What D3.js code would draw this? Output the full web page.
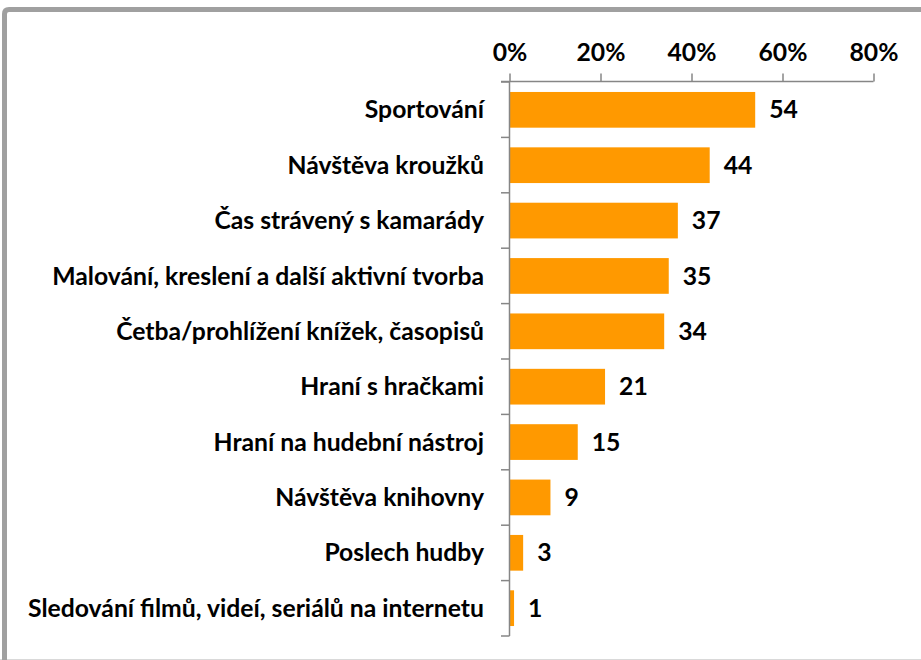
<!DOCTYPE html>
<html>
<head>
<meta charset="utf-8">
<script src="https://d3js.org/d3.v7.min.js"></script>
<style>
	body{ margin:0; background:#fff; }
	svg text{ font-family: Lato, "Open Sans", sans-serif; font-weight:bold; fill:#000; }
	.frame{ fill:none; stroke:#a0a0a0; stroke-width:5; }
</style>
</head>
<body>
<div id="container"></div>
<script>

var categories = [
	"Sportování",
	"Návštěva kroužků",
	"Čas strávený s kamarády",
	"Malování, kreslení a další aktivní tvorba",
	"Četba/prohlížení knížek, časopisů",
	"Hraní s hračkami",
	"Hraní na hudební nástroj",
	"Návštěva knihovny",
	"Poslech hudby",
	"Sledování filmů, videí, seriálů na internetu"
];
var values = [54, 44, 37, 35, 34, 21, 15, 9, 3, 1];
var tickValues = [0, 20, 40, 60, 80];

var W = 921, H = 660;
var x0 = 509.5, x1 = 873.5, plotTop = 82, plotBottom = 636;

var svg = d3.select("#container")
	.append("svg")
	.attr("width", W)
	.attr("height", H);

// chart frame
svg.append("rect")
	.attr("x", 0).attr("y", 0)
	.attr("width", W).attr("height", H)
	.attr("fill", "#fff");
svg.append("line")
	.attr("x1", 0).attr("x2", W).attr("y1", 659.5).attr("y2", 659.5)
	.attr("stroke", "#d9d9d9").attr("stroke-width", 1);
svg.append("path")
	.attr("class", "frame")
	.attr("d", "M4.5,660 L4.5,14 Q4.5,9.5 9,9.5 L925,9.5");

var x = d3.scaleLinear().domain([0, 80]).range([x0, x1]);
var y = d3.scaleBand().domain(categories).range([plotTop, plotBottom]).paddingInner(0.355).paddingOuter(0.18);

// bars
svg.selectAll("rect.bar")
	.data(values)
	.enter().append("rect")
	.attr("class", "bar")
	.attr("x", x(0))
	.attr("y", function(d, i){ return y(categories[i]); })
	.attr("width", function(d){ return x(d) - x(0); })
	.attr("height", y.bandwidth())
	.attr("fill", "#ff9900");

// top axis
var ax = svg.append("g")
	.attr("transform", "translate(0," + (plotTop - 0.5) + ")")
	.call(d3.axisTop(x).tickValues(tickValues).tickSize(8).tickPadding(13).tickFormat(function(d){ return d + "%"; }));
ax.select(".domain").attr("d", "M501,0H" + x1).attr("stroke", "#868686").attr("stroke-width", 1.5);
ax.selectAll(".tick line").attr("stroke", "#868686").attr("stroke-width", 1.5);
ax.selectAll(".tick text").style("font-size", "20px").attr("fill", "#000");

// left axis line with boundary ticks
var step = (plotBottom - plotTop) / categories.length;
svg.append("line")
	.attr("x1", x0).attr("x2", x0).attr("y1", plotTop).attr("y2", plotBottom)
	.attr("stroke", "#868686").attr("stroke-width", 1.5);
svg.selectAll("line.btick")
	.data(d3.range(categories.length + 1))
	.enter().append("line")
	.attr("class", "btick")
	.attr("x1", 501).attr("x2", x0)
	.attr("y1", function(d){ return plotTop + d * step; })
	.attr("y2", function(d){ return plotTop + d * step; })
	.attr("stroke", "#868686").attr("stroke-width", 1.5);

// category labels
var labels = svg.selectAll("text.cat")
	.data(categories)
	.enter().append("text")
	.attr("class", "cat")
	.attr("x", 484)
	.attr("y", function(d){ return y(d) + y.bandwidth() / 2; })
	.attr("dy", "0.35em")
	.attr("text-anchor", "end")
	.style("font-size", "20px")
	.text(function(d){ return d; });

// fit font size so longest label spans like the reference
var maxW = d3.max(labels.nodes(), function(n){ return n.getComputedTextLength(); });
var fs = 20 * 456 / maxW;
labels.style("font-size", fs + "px");
ax.selectAll(".tick text").style("font-size", fs + "px");

// value labels
svg.selectAll("text.val")
	.data(values)
	.enter().append("text")
	.attr("class", "val")
	.attr("x", function(d){ return x(d) + 14; })
	.attr("y", function(d, i){ return y(categories[i]) + y.bandwidth() / 2; })
	.attr("dy", "0.35em")
	.style("font-size", fs + "px")
	.text(function(d){ return d; });

</script>
</body>
</html>
